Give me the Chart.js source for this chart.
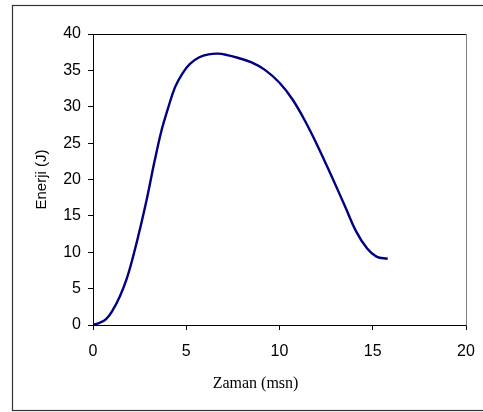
<!DOCTYPE html>
<html>
<head>
<meta charset="utf-8">
<script src="https://cdn.jsdelivr.net/npm/chart.js@4/dist/chart.umd.min.js"></script>
<style>
  html, body { margin: 0; padding: 0; background: #fff; }
  #wrap { width: 483px; height: 412px; position: relative; }
</style>
</head>
<body>
<div id="wrap"><canvas id="c" width="483" height="412"></canvas></div>
<script>
// Energy over time
const timeMs = [0, 0.35, 0.7, 1.05, 1.45, 1.8, 2.15, 2.5, 2.9, 3.3, 3.7, 4.0, 4.4, 4.8, 5.2, 5.7, 6.2, 6.7, 7.2, 7.8, 8.5, 9.2, 10.0, 10.7, 11.4, 12.1, 12.8, 13.5, 14.1, 14.7, 15.2, 15.8];
const energyJ = [0, 0.3, 0.8, 2.0, 4.0, 6.3, 9.4, 13.0, 17.5, 22.5, 27.0, 29.6, 32.7, 34.6, 35.9, 36.8, 37.2, 37.3, 37.1, 36.7, 36.1, 35.1, 33.3, 31.0, 27.9, 24.3, 20.4, 16.4, 12.9, 10.5, 9.4, 9.1];

const xTitle = 'Zaman (msn)';
const yTitle = 'Enerji (J)';

const points = timeMs.map((t, i) => ({ x: t, y: energyJ[i] }));

const tickFont = { family: '"Liberation Sans", Arial, sans-serif', size: 16 };

// Outer frame, plot box edges and the serif x-axis caption
const decorations = {
  id: 'decorations',
  beforeDraw(chart) {
    const ctx = chart.ctx;
    ctx.save();
    ctx.fillStyle = '#fff';
    ctx.fillRect(0, 0, chart.width, chart.height);
    ctx.strokeStyle = '#333';
    ctx.lineWidth = 1.2;
    ctx.strokeRect(12.5, 5.5, 480, 405);
    ctx.restore();
  },
  afterDraw(chart) {
    const { ctx, chartArea: a } = chart;
    ctx.save();
    ctx.lineWidth = 1;
    ctx.strokeStyle = '#000';
    ctx.beginPath();
    ctx.moveTo(Math.round(a.left) + 0.5, Math.round(a.top) + 0.5);
    ctx.lineTo(Math.round(a.right) + 0.5, Math.round(a.top) + 0.5);
    ctx.stroke();
    ctx.strokeStyle = '#808080';
    ctx.beginPath();
    ctx.moveTo(Math.round(a.right) + 0.5, Math.round(a.top) + 0.5);
    ctx.lineTo(Math.round(a.right) + 0.5, Math.round(a.bottom) + 0.5);
    ctx.stroke();
    ctx.fillStyle = '#000';
    ctx.font = '16px "Liberation Serif", "Times New Roman", serif';
    ctx.textAlign = 'center';
    ctx.textBaseline = 'middle';
    ctx.fillText(xTitle, 255.5, 384);
    ctx.restore();
  }
};

new Chart(document.getElementById('c'), {
  type: 'line',
  data: {
    datasets: [{
      data: points,
      borderColor: '#000080',
      borderWidth: 2.4,
      pointRadius: 0,
      fill: false,
      tension: 0.4
    }]
  },
  options: {
    responsive: false,
    animation: false,
    devicePixelRatio: 1,
    layout: { padding: { top: 34, right: 17, left: 0, bottom: 0 } },
    plugins: { legend: { display: false }, tooltip: { enabled: false } },
    scales: {
      x: {
        type: 'linear',
        min: 0, max: 20,
        afterFit(scale) { scale.height = 87; scale.paddingLeft = 0; scale.paddingRight = 0; },
        ticks: { stepSize: 5, color: '#000', font: tickFont, padding: 12, maxRotation: 0 },
        grid: { drawOnChartArea: false, drawTicks: true, tickLength: 5, color: '#000' },
        border: { color: '#000', width: 1 }
      },
      y: {
        type: 'linear',
        min: 0, max: 40,
        afterFit(scale) { scale.width = 93; scale.paddingTop = 0; scale.paddingBottom = 0; },
        ticks: { stepSize: 5, color: '#000', font: tickFont, padding: 7 },
        grid: { drawOnChartArea: false, drawTicks: true, tickLength: 5, color: '#000' },
        border: { color: '#000', width: 1 },
        title: {
          display: true,
          text: yTitle,
          color: '#000',
          font: { family: '"Liberation Sans", Arial, sans-serif', size: 15 },
          padding: { top: 33, bottom: 0 }
        }
      }
    }
  },
  plugins: [decorations]
});
</script>
</body>
</html>
